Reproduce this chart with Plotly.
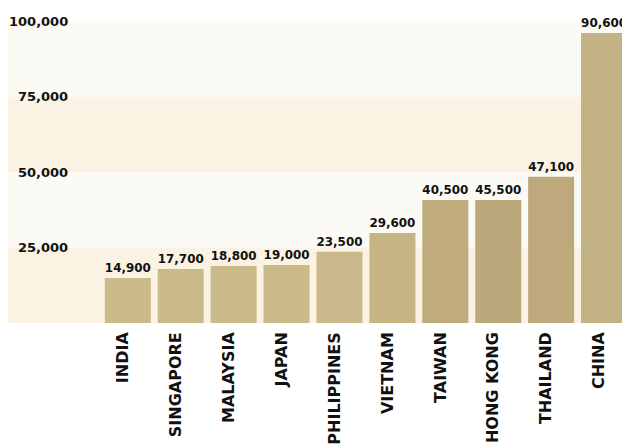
import plotly.graph_objects as go

countries = ["INDIA", "SINGAPORE", "MALAYSIA", "JAPAN", "PHILIPPINES",
             "VIETNAM", "TAIWAN", "HONG KONG", "THAILAND", "CHINA"]
# bar heights as drawn in the reference
bar_heights = [14900, 17900, 18900, 19200, 23600, 29800, 40700, 40700, 48400, 96000]
# value labels as printed above bars
value_labels = ["14,900", "17,700", "18,800", "19,000", "23,500",
                "29,600", "40,500", "45,500", "47,100", "90,600"]
y_ticks = [25000, 50000, 75000, 100000]
y_tick_labels = ["25,000", "50,000", "75,000", "100,000"]

bar_colors = ["#cbbb8a", "#cbbb8a", "#cbbb8a", "#cbbb8a", "#cab98a",
              "#c6b484", "#bfab7c", "#bca97b", "#bda97b", "#c3b283"]

FONT = "DejaVu Sans"

fig = go.Figure()
fig.add_trace(go.Bar(
    x=countries, y=bar_heights, text=value_labels,
    textposition="outside", cliponaxis=False,
    textfont=dict(family=FONT, size=13, color="#111111", weight="bold"),
    marker=dict(color=bar_colors, line=dict(width=0)),
))

band_colors = ["#faf3e3", "#fcfaf5", "#faf3e3", "#fcfaf5"]
lo = 0
for top, c in zip(y_ticks, band_colors):
    fig.add_shape(type="rect", xref="paper", yref="y", x0=0, x1=1, y0=lo, y1=top,
                  fillcolor=c, line=dict(width=0), layer="below")
    lo = top

for v, t in zip(y_ticks, y_tick_labels):
    fig.add_annotation(x=0.0997, xref="paper", y=v, yref="y", text=t, showarrow=False,
                       xanchor="right", yanchor="middle",
                       font=dict(family=FONT, size=13, color="#111111", weight="bold"))

fig.update_layout(
    width=630, height=448,
    margin=dict(l=0, r=8, t=13, b=133, autoexpand=False),
    paper_bgcolor="#ffffff", plot_bgcolor="rgba(0,0,0,0)",
    showlegend=False, bargap=0.13,
    xaxis=dict(type="category", range=[-2.264, 9.49], tickangle=-90, automargin=False,
               showgrid=False, showline=False, zeroline=False, ticks="",
               ticklabelshift=-5, ticklabelstandoff=5,
               tickfont=dict(family=FONT, size=16, color="#111111", weight="bold")),
    yaxis=dict(range=[0, 100000], showticklabels=False, showgrid=False, automargin=False,
               zeroline=False, showline=False),
)

fig.write_html("out.html")
